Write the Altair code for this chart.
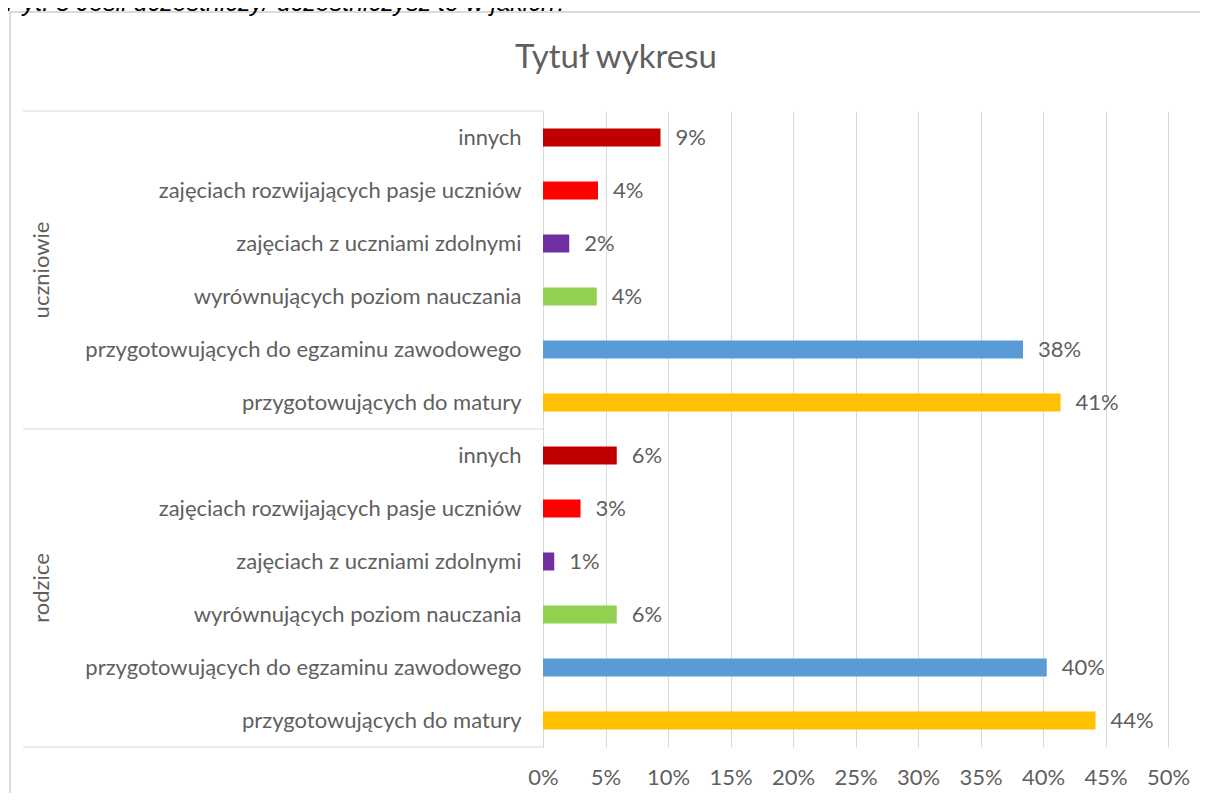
import altair as alt
import pandas as pd

groups = ["uczniowie", "rodzice"]
categories = [
    "innych",
    "zajęciach rozwijających pasje uczniów",
    "zajęciach z uczniami zdolnymi",
    "wyrównujących poziom nauczania",
    "przygotowujących do egzaminu zawodowego",
    "przygotowujących do matury",
]
values_uczniowie = [0.094, 0.044, 0.021, 0.043, 0.384, 0.414]
values_rodzice = [0.059, 0.030, 0.009, 0.059, 0.403, 0.442]
colors = ["#C00000", "#FF0000", "#7030A0", "#92D050", "#5B9BD5", "#FFC000"]
x_ticks = [0, 0.05, 0.10, 0.15, 0.20, 0.25, 0.30, 0.35, 0.40, 0.45, 0.50]
title_text = "Tytuł wykresu"
question_text = "Pyt. 5 Jeśli uczestniczy/ uczestniczysz to w jakich?"

rows = []
for g, vals in zip(groups, [values_uczniowie, values_rodzice]):
    for c, v in zip(categories, vals):
        rows.append({"group": g, "category": c, "key": f"{g}|{c}", "value": v})
df = pd.DataFrame(rows)
keys = list(df["key"])

GRAY = "#5f5f5f"
LINE = "#d9d9d9"
FONT = "Lato"

yscale = alt.Scale(domain=keys, paddingInner=0, paddingOuter=0)
xscale = alt.Scale(domain=[0, 0.5], nice=False)

yaxis = alt.Axis(
    title=None,
    labelExpr="split(datum.label, '|')[1]",
    ticks=False,
    domain=True,
    domainColor=LINE,
    grid=False,
    labelFont=FONT,
    labelFontSize=22,
    labelColor=GRAY,
    labelPadding=22,
    labelLimit=0,
)
xaxis = alt.Axis(
    title=None,
    values=x_ticks,
    format=".0%",
    ticks=False,
    domain=False,
    grid=True,
    gridColor=LINE,
    labelFont=FONT,
    labelFontSize=22,
    labelColor=GRAY,
    labelPadding=20,
    labelFlush=False,
    labelOverlap=False,
)

Y = lambda **kw: alt.Y("key:N", scale=yscale, axis=yaxis, **kw)
X = alt.X("value:Q", scale=xscale, axis=xaxis)

frame = alt.Chart(pd.DataFrame({"a": [0]})).mark_rect(
    fillOpacity=0, stroke="#cfcfcf", strokeWidth=1.5
).encode(
    x=alt.value(-533), x2=alt.value(700), y=alt.value(-99), y2=alt.value(760)
)

rule_top = alt.Chart(pd.DataFrame({"key": [keys[0], keys[6]]})).mark_rule(
    color=LINE, strokeWidth=1
).encode(y=Y(bandPosition=0), x=alt.value(-520), x2=alt.value(0))

rule_bot = alt.Chart(pd.DataFrame({"key": [keys[-1]]})).mark_rule(
    color=LINE, strokeWidth=1
).encode(y=Y(bandPosition=1), x=alt.value(-520), x2=alt.value(0))

bars = alt.Chart(df).mark_bar(size=18).encode(
    y=Y(),
    x=X,
    color=alt.Color(
        "category:N", scale=alt.Scale(domain=categories, range=colors), legend=None
    ),
)

labels = alt.Chart(df).mark_text(
    align="left", baseline="middle", dx=15, font=FONT, fontSize=22, color=GRAY
).encode(y=Y(), x=X, text=alt.Text("value:Q", format=".0%"))

grp_df = pd.DataFrame({"group": groups, "key": [keys[2], keys[8]]})
grp_text = alt.Chart(grp_df).mark_text(
    angle=270, align="center", baseline="middle", font=FONT, fontSize=22, color=GRAY
).encode(y=Y(bandPosition=1), x=alt.value(-501), text="group:N")

title = alt.Chart(pd.DataFrame({"t": [title_text]})).mark_text(
    align="center", baseline="alphabetic", font=FONT, fontSize=33, color=GRAY
).encode(text="t:N", x=alt.value(73), y=alt.value(-43))

question = alt.Chart(pd.DataFrame({"t": [question_text]})).mark_text(
    align="left",
    baseline="alphabetic",
    font="Liberation Sans",
    fontStyle="italic",
    fontSize=25,
    color="#000000",
).encode(text="t:N", x=alt.value(-537), y=alt.value(-100))

chart = alt.layer(
    frame, rule_top, rule_bot, bars, labels, grp_text, title, question
).properties(
    width=625,
    height=636,
    padding={"left": 535, "top": 103, "right": 32, "bottom": 46},
    autosize=alt.AutoSizeParams(type="none"),
    background="white",
).configure_view(stroke=None)

chart.save("out.html", embed_options={"renderer": "svg", "actions": False})
